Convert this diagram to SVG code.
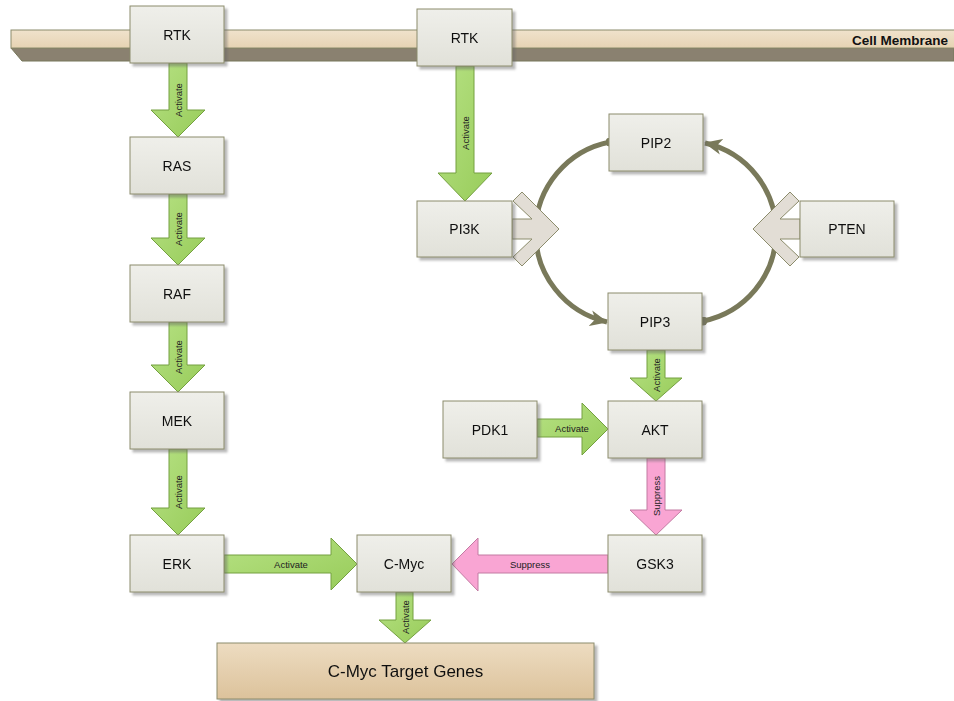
<svg xmlns="http://www.w3.org/2000/svg" width="954" height="701" viewBox="0 0 954 701">
<style>
.box{fill:url(#gBox);stroke:#8c8c6c;stroke-width:1}
.lbl{font-family:"Liberation Sans",Arial,sans-serif;font-size:14px;fill:#111;text-anchor:middle;dominant-baseline:central}
.big{font-size:17px}
.al{font-family:"Liberation Sans",Arial,sans-serif;font-size:9.5px;fill:#222;text-anchor:middle;dominant-baseline:central}
.act{fill:url(#gGreen);stroke:#74a040;stroke-width:1}
.sup{fill:#f9a5d3;stroke:#c27ba2;stroke-width:1}
.chev{fill:#e2ddd5;stroke:#8c8c6c;stroke-width:1}
.cyc{fill:none;stroke:#79795a;stroke-width:5}
</style>
<defs>
<linearGradient id="gBox" x1="0" y1="0" x2="0" y2="1"><stop offset="0" stop-color="#efefea"/><stop offset="1" stop-color="#e1e1d9"/></linearGradient>
<linearGradient id="gGreen" x1="0" y1="0" x2="1" y2="1"><stop offset="0" stop-color="#b6e183"/><stop offset="1" stop-color="#98cc5a"/></linearGradient>
<linearGradient id="gMem" x1="0" y1="0" x2="0" y2="1"><stop offset="0" stop-color="#f0e2cc"/><stop offset="1" stop-color="#e6d3b3"/></linearGradient>
<linearGradient id="gTan" x1="0" y1="0" x2="0" y2="1"><stop offset="0" stop-color="#eddcc1"/><stop offset="1" stop-color="#dcc29b"/></linearGradient>
<filter id="sh" x="-10%" y="-10%" width="130%" height="130%"><feDropShadow dx="3" dy="3" stdDeviation="1" flood-color="#666" flood-opacity="0.45"/></filter>
<marker id="ah" viewBox="0 0 18 18" refX="17" refY="9" markerWidth="18" markerHeight="18" markerUnits="userSpaceOnUse" orient="auto"><path d="M0,1 L18,9 L0,17 L5,9 Z" fill="#79795a"/></marker>
<marker id="dot" viewBox="0 0 10 10" refX="5" refY="5" markerWidth="9" markerHeight="9" markerUnits="userSpaceOnUse"><circle cx="5" cy="5" r="5" fill="#79795a"/></marker>
</defs>
<rect width="954" height="701" fill="#ffffff"/>
<g id="membrane">
<polygon points="11,48 954,48 954,61 22,61" fill="#8a8170" stroke="#77775a" stroke-width="1"/>
<rect x="11" y="30" width="944" height="18" fill="url(#gMem)" stroke="#8c8c6c" stroke-width="1"/>
<text x="948" y="40" font-family="'Liberation Sans',Arial,sans-serif" font-size="13.5" font-weight="bold" fill="#111" text-anchor="end" dominant-baseline="central">Cell Membrane</text>
</g>
<g id="connectors">
<path class="cyc" d="M610,142 A92 92 0 0 0 607,322" marker-start="url(#dot)" marker-end="url(#ah)"/>
<path class="cyc" d="M703,321 A91 91 0 0 0 705,143" marker-start="url(#dot)" marker-end="url(#ah)"/>
<polygon class="chev" points="512,219 532,219 513,201 522,192 559,229 522,266 513,257 532,239 512,239"/>
<polygon class="chev" points="800,219 780,219 799,201 790,192 753,229 790,266 799,257 780,239 800,239"/>
<g id="a1"><polygon class="act" points="169,63 187,63 187,110 205,110 178,137 151,110 169,110"/><text class="al" transform="translate(178,100) rotate(-90)">Activate</text></g>
<g id="a2"><polygon class="act" points="169,194 187,194 187,238 205,238 178,265 151,238 169,238"/><text class="al" transform="translate(178,229) rotate(-90)">Activate</text></g>
<g id="a3"><polygon class="act" points="169,322 187,322 187,365 205,365 178,392 151,365 169,365"/><text class="al" transform="translate(178,357) rotate(-90)">Activate</text></g>
<g id="a4"><polygon class="act" points="169,449 187,449 187,508 205,508 178,535 151,508 169,508"/><text class="al" transform="translate(178,492) rotate(-90)">Activate</text></g>
<g id="a5"><polygon class="act" points="456,66 474,66 474,173 492,173 465,201 438,173 456,173"/><text class="al" transform="translate(465,133) rotate(-90)">Activate</text></g>
<g id="a6"><polygon class="act" points="647,350 665,350 665,378 682,378 656,401 630,378 647,378"/><text class="al" transform="translate(656,375) rotate(-90)">Activate</text></g>
<g id="a7"><polygon class="act" points="537,419 582,419 582,403 608,429 582,455 582,437 537,437"/><text class="al" x="572" y="428">Activate</text></g>
<g id="a8"><polygon class="sup" points="647,458 665,458 665,510 682,510 656,535 630,510 647,510"/><text class="al" transform="translate(656,496) rotate(-90)">Suppress</text></g>
<g id="a9"><polygon class="act" points="224,555 331,555 331,538 357,564 331,590 331,573 224,573"/><text class="al" x="291" y="564">Activate</text></g>
<g id="a10"><polygon class="sup" points="608,555 478,555 478,538 452,564 478,591 478,573 608,573"/><text class="al" x="530" y="564">Suppress</text></g>
<g id="a11"><polygon class="act" points="396,592 413,592 413,620 431,620 405,643 379,620 396,620"/><text class="al" transform="translate(405,617) rotate(-90)">Activate</text></g>
</g>
<g id="rtk1" filter="url(#sh)"><rect class="box" x="130" y="6" width="94" height="57"/><text class="lbl" x="177" y="34.5">RTK</text></g>
<g id="rtk2" filter="url(#sh)"><rect class="box" x="417" y="9" width="95" height="57"/><text class="lbl" x="464.5" y="37.5">RTK</text></g>
<g id="ras" filter="url(#sh)"><rect class="box" x="130" y="137" width="94" height="57"/><text class="lbl" x="177" y="165.5">RAS</text></g>
<g id="raf" filter="url(#sh)"><rect class="box" x="130" y="265" width="94" height="57"/><text class="lbl" x="177" y="293.5">RAF</text></g>
<g id="mek" filter="url(#sh)"><rect class="box" x="130" y="392" width="94" height="57"/><text class="lbl" x="177" y="420.5">MEK</text></g>
<g id="erk" filter="url(#sh)"><rect class="box" x="130" y="535" width="94" height="57"/><text class="lbl" x="177" y="563.5">ERK</text></g>
<g id="cmyc" filter="url(#sh)"><rect class="box" x="357" y="535" width="94" height="57"/><text class="lbl" x="404" y="563.5">C-Myc</text></g>
<g id="gsk3" filter="url(#sh)"><rect class="box" x="608" y="535" width="94" height="57"/><text class="lbl" x="655" y="563.5">GSK3</text></g>
<g id="akt" filter="url(#sh)"><rect class="box" x="608" y="401" width="94" height="57"/><text class="lbl" x="655" y="429.5">AKT</text></g>
<g id="pdk1" filter="url(#sh)"><rect class="box" x="443" y="401" width="94" height="57"/><text class="lbl" x="490" y="429.5">PDK1</text></g>
<g id="pip3" filter="url(#sh)"><rect class="box" x="608" y="293" width="94" height="57"/><text class="lbl" x="655" y="321.5">PIP3</text></g>
<g id="pip2" filter="url(#sh)"><rect class="box" x="609" y="114" width="94" height="57"/><text class="lbl" x="656" y="142.5">PIP2</text></g>
<g id="pi3k" filter="url(#sh)"><rect class="box" x="417" y="201" width="95" height="56"/><text class="lbl" x="464.5" y="229">PI3K</text></g>
<g id="pten" filter="url(#sh)"><rect class="box" x="800" y="201" width="94" height="56"/><text class="lbl" x="847" y="229">PTEN</text></g>
<g id="targets" filter="url(#sh)"><rect x="217" y="643" width="377" height="56" fill="url(#gTan)" stroke="#8c8c6c" stroke-width="1"/><text class="lbl big" x="405.5" y="671">C-Myc Target Genes</text></g>
</svg>
